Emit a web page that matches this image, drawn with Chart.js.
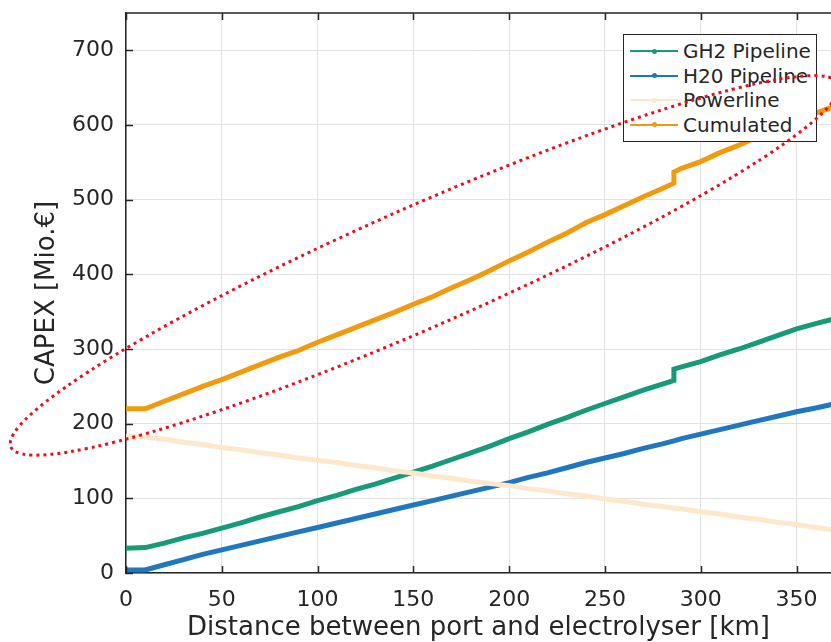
<!DOCTYPE html>
<html>
<head>
<meta charset="utf-8">
<script src="https://cdn.jsdelivr.net/npm/chart.js@4.4.0/dist/chart.umd.min.js"></script>
<style>
  body { margin: 0; background: #fff; }
  #wrap { position: relative; width: 831px; height: 642px; overflow: hidden; }
  #chart, #overlay { position: absolute; left: 0; top: 0; }
  #overlay { pointer-events: none; }
  #legend {
    position: absolute; left: 623px; top: 34px; width: 194px; height: 108px;
    box-sizing: border-box; border: 1px solid #262626; background: #fff;
    padding-top: 4px; font-family: "DejaVu Sans"; font-size: 20px; color: #262626;
  }
  .row { display: flex; align-items: center; height: 24.5px; }
  .sample { position: relative; width: 48px; height: 2px; margin-left: 6px; margin-right: 5px; flex: none; }
  .sample i { position: absolute; left: 22px; top: -1.5px; width: 5px; height: 5px; border-radius: 50%; }
</style>
</head>
<body>
<div id="wrap">
  <canvas id="chart" width="831" height="642"></canvas>
  <div id="legend"></div>
  <canvas id="overlay" width="831" height="642"></canvas>
</div>
<script>
// distance in km (286 appears twice: step in the GH2 pipeline cost)
const distance = [0, 10, 20, 30, 40, 50, 60, 70, 80, 90, 100, 110, 120, 130, 140, 150, 160, 170, 180, 190,
  200, 210, 220, 230, 240, 250, 260, 270, 280, 286, 286, 290, 300, 310, 320, 330, 340, 350, 360, 369];
const gh2Pipeline = [33, 34, 40, 47, 53, 60, 67, 75, 82, 89, 97, 104, 112, 119, 127, 135, 143, 152, 161, 170,
  180, 189, 199, 208, 218, 227, 236, 245, 253, 258, 273, 276, 283, 292, 300, 309, 318, 327, 334, 340];
const h2oPipeline = [4, 4, 11, 18, 25, 31, 37, 43, 49, 55, 61, 67, 73, 79, 85, 91, 97, 103, 109, 115,
  121, 128, 134, 141, 148, 154, 160, 167, 173, 177, 177, 180, 186, 192, 198, 204, 210, 216, 221, 226];
const powerline = [183, 182, 179, 175, 172, 168, 165, 161, 158, 154, 151, 148, 144, 141, 137, 134, 130, 127, 123, 120,
  117, 113, 110, 106, 103, 99, 96, 92, 89, 87, 87, 86, 82, 79, 75, 72, 68, 65, 61, 58];
const cumulated = [220, 220, 230, 240, 250, 259, 269, 279, 289, 298, 309, 319, 329, 339, 349, 360, 370, 382, 393, 405,
  418, 430, 443, 455, 469, 480, 492, 504, 515, 522, 537, 542, 551, 563, 573, 585, 596, 608, 616, 624];

const seriesNames = ["GH2 Pipeline", "H20 Pipeline", "Powerline", "Cumulated"];
const seriesColors = ["#179a78", "#1f77c0", "#fde8cc", "#f29a0d"];
const seriesValues = [gh2Pipeline, h2oPipeline, powerline, cumulated];

const xRange = [0, 368];
const yRange = [0, 750];

// hand drawn highlight around the cumulated curve (centre in data units)
const highlight = { km: 156, capex: 412, rx: 452, ry: 60, angle: -23.7 };

const ink = "#262626";
Chart.defaults.font.family = "DejaVu Sans";
Chart.defaults.color = ink;

const frameTicks = {
  id: "frameTicks",
  afterDraw(chart) {
    const { ctx, chartArea: a, scales: { x, y } } = chart;
    ctx.save();
    ctx.strokeStyle = ink;
    ctx.lineWidth = 1.5;
    ctx.beginPath();
    ctx.moveTo(a.left, a.top);
    ctx.lineTo(a.right, a.top);
    x.ticks.forEach((t) => {
      const px = Math.round(x.getPixelForValue(t.value)) + 0.5;
      ctx.moveTo(px, a.bottom);
      ctx.lineTo(px, a.bottom - 7);
      ctx.moveTo(px, a.top);
      ctx.lineTo(px, a.top + 7);
    });
    y.ticks.forEach((t) => {
      const py = Math.round(y.getPixelForValue(t.value)) + 0.5;
      ctx.moveTo(a.left, py);
      ctx.lineTo(a.left + 7, py);
    });
    ctx.stroke();
    ctx.restore();
  },
  afterRender(chart) {
    const { x, y } = chart.scales;
    const octx = document.getElementById("overlay").getContext("2d");
    octx.clearRect(0, 0, 831, 642);
    octx.save();
    octx.strokeStyle = "#e8101c";
    octx.lineWidth = 3;
    octx.setLineDash([3, 4]);
    octx.beginPath();
    octx.ellipse(x.getPixelForValue(highlight.km), y.getPixelForValue(highlight.capex),
      highlight.rx, highlight.ry, highlight.angle * Math.PI / 180, 0, Math.PI * 2);
    octx.stroke();
    octx.restore();
  },
};

const datasets = seriesNames.map((name, i) => ({
  label: name,
  data: distance.map((d, j) => ({ x: d, y: seriesValues[i][j] })),
  borderColor: seriesColors[i],
  backgroundColor: seriesColors[i],
  borderWidth: 5,
  pointRadius: 0,
  tension: 0,
  order: seriesNames.length - 1 - i,
}));

new Chart(document.getElementById("chart"), {
  type: "line",
  data: { datasets },
  options: {
    responsive: false,
    animation: false,
    layout: { padding: { top: 13, right: 0, left: 0, bottom: 0 } },
    plugins: { legend: { display: false }, tooltip: { enabled: false } },
    scales: {
      x: {
        type: "linear",
        min: xRange[0],
        max: xRange[1],
        ticks: { stepSize: 50, includeBounds: false, font: { size: 22 }, color: ink, padding: 14, maxRotation: 0 },
        grid: { color: "#e2e2e2", drawTicks: false },
        border: { color: ink, width: 1.5 },
        title: { display: true, text: "Distance between port and electrolyser [km]", font: { size: 26 }, color: ink, padding: { top: 0, bottom: -2 } },
        afterFit: (s) => { s.height = 69; s.paddingLeft = 0; s.paddingRight = 0; },
      },
      y: {
        min: yRange[0],
        max: yRange[1],
        ticks: { stepSize: 100, includeBounds: false, font: { size: 22 }, color: ink, padding: 12 },
        grid: { color: "#e2e2e2", drawTicks: false },
        border: { color: ink, width: 1.5 },
        title: { display: true, text: "CAPEX [Mio.€]", font: { size: 26 }, color: ink, padding: { top: 32, bottom: 0 } },
        afterFit: (s) => { s.width = 126; s.paddingTop = 0; s.paddingBottom = 0; },
      },
    },
  },
  plugins: [frameTicks],
});

const legend = document.getElementById("legend");
seriesNames.forEach((name, i) => {
  const row = document.createElement("div");
  row.className = "row";
  row.innerHTML = `<span class="sample" style="background:${seriesColors[i]}"><i style="background:${seriesColors[i]}"></i></span><span>${name}</span>`;
  legend.appendChild(row);
});
</script>
</body>
</html>
